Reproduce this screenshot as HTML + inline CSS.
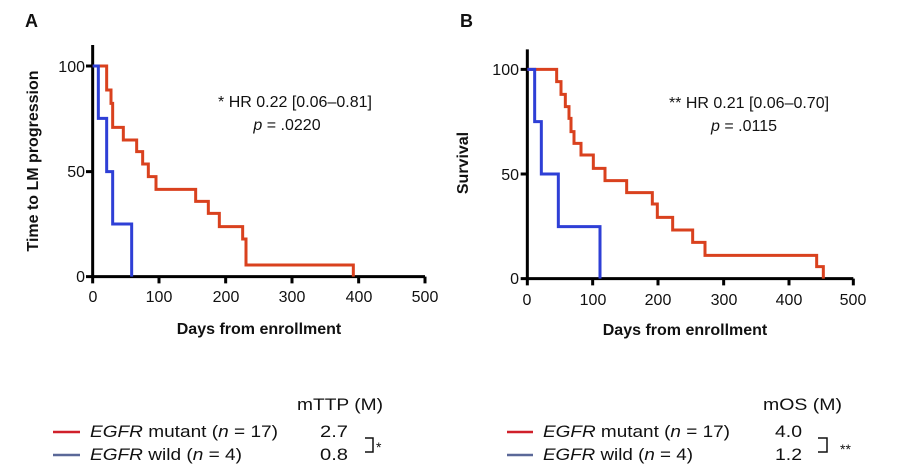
<!DOCTYPE html>
<html><head><meta charset="utf-8"><style>body{margin:0;background:#fff}svg{display:block}text{font-family:"Liberation Sans",sans-serif;fill:#111}</style></head><body>
<svg width="905" height="465" viewBox="0 0 905 465" xmlns="http://www.w3.org/2000/svg">
<rect width="905" height="465" fill="#fff"/>
<g transform="scale(0.33333)" fill="none" stroke-linejoin="miter">
 <path d="M278,135 V830 H1275 M258,198 H278 M258,515 H278 M278,830 V850 M477,830 V850 M677,830 V850 M876,830 V850 M1076,830 V850 M1275,830 V850 M258,830 H278" stroke="#000" stroke-width="9"/>
 <path d="M278,198 H320 V270 H333 V310 H338 V382 H370 V420 H410 V455 H428 V492 H445 V530 H468 V568 H587 V604 H625 V640 H658 V680 H728 V717 H738 V795 H1060 V830" stroke="#d9411e" stroke-width="9"/>
 <path d="M278,198 H295 V355 H320 V515 H338 V672 H395 V830" stroke="#2e3fd6" stroke-width="9"/>
</g>
<g transform="translate(450,0) scale(0.33333)" fill="none">
 <path d="M232,148 V836 H1210 M212,208 H232 M212,522 H232 M212,836 H232 M232,836 V856 M428,836 V856 M624,836 V856 M821,836 V856 M1017,836 V856 M1210,836 V856" stroke="#000" stroke-width="9"/>
 <path d="M232,208 H320 V245 H333 V283 H346 V320 H357 V355 H363 V395 H372 V430 H393 V465 H430 V505 H465 V542 H530 V578 H607 V612 H622 V652 H668 V690 H728 V727 H765 V766 H1100 V800 H1120 V836" stroke="#d9411e" stroke-width="9"/>
 <path d="M232,208 H254 V365 H274 V522 H325 V680 H450 V836" stroke="#2e3fd6" stroke-width="9"/>
</g>
<text x="25" y="27" font-size="18" font-weight="bold">A</text>
<text x="460" y="27" font-size="18" font-weight="bold">B</text>
<g font-size="16" text-anchor="end">
<text x="85" y="72">100</text><text x="85" y="177">50</text><text x="85" y="282">0</text>
<text x="519" y="75">100</text><text x="519" y="180">50</text><text x="519" y="284">0</text>
</g>
<g font-size="16" text-anchor="middle">
<text x="93" y="302">0</text><text x="159" y="302">100</text><text x="226" y="302">200</text><text x="292" y="302">300</text><text x="359" y="302">400</text><text x="425" y="302">500</text>
<text x="527" y="305">0</text><text x="593" y="305">100</text><text x="658" y="305">200</text><text x="724" y="305">300</text><text x="789" y="305">400</text><text x="853" y="305">500</text>
<text x="259" y="334" font-weight="bold">Days from enrollment</text>
<text x="685" y="335" font-weight="bold">Days from enrollment</text>
<text x="295" y="107">* HR 0.22 [0.06–0.81]</text>
<text x="287" y="130"><tspan font-style="italic">p</tspan> = .0220</text>
<text x="749" y="108">** HR 0.21 [0.06–0.70]</text>
<text x="744" y="131"><tspan font-style="italic">p</tspan> = .0115</text>
<text transform="translate(38,161) rotate(-90)" font-weight="bold">Time to LM progression</text>
<text transform="translate(468,163) rotate(-90)" font-weight="bold">Survival</text>
</g>
<g font-size="17">
<text x="297" y="410" textLength="86" lengthAdjust="spacingAndGlyphs">mTTP (M)</text>
<line x1="53" y1="432" x2="80" y2="432" stroke="#d0202a" stroke-width="2.5"/>
<line x1="53" y1="455" x2="80" y2="455" stroke="#5a6898" stroke-width="2.5"/>
<text x="90" y="437" textLength="188" lengthAdjust="spacingAndGlyphs"><tspan font-style="italic">EGFR</tspan> mutant (<tspan font-style="italic">n</tspan> = 17)</text>
<text x="90" y="460" textLength="152" lengthAdjust="spacingAndGlyphs"><tspan font-style="italic">EGFR</tspan> wild (<tspan font-style="italic">n</tspan> = 4)</text>
<text x="320" y="437" textLength="28" lengthAdjust="spacingAndGlyphs">2.7</text>
<text x="320" y="460" textLength="28" lengthAdjust="spacingAndGlyphs">0.8</text>
<path d="M365,438 H373 V452 H365" fill="none" stroke="#111" stroke-width="1.5"/>
<text x="376" y="452" font-size="14">*</text>
<text x="763" y="410" textLength="79" lengthAdjust="spacingAndGlyphs">mOS (M)</text>
<line x1="507" y1="432" x2="533" y2="432" stroke="#d0202a" stroke-width="2.5"/>
<line x1="507" y1="455" x2="533" y2="455" stroke="#5a6898" stroke-width="2.5"/>
<text x="543" y="437" textLength="187" lengthAdjust="spacingAndGlyphs"><tspan font-style="italic">EGFR</tspan> mutant (<tspan font-style="italic">n</tspan> = 17)</text>
<text x="543" y="460" textLength="150" lengthAdjust="spacingAndGlyphs"><tspan font-style="italic">EGFR</tspan> wild (<tspan font-style="italic">n</tspan> = 4)</text>
<text x="775" y="437" textLength="27" lengthAdjust="spacingAndGlyphs">4.0</text>
<text x="775" y="460" textLength="27" lengthAdjust="spacingAndGlyphs">1.2</text>
<path d="M818,438 H827 V452 H818" fill="none" stroke="#111" stroke-width="1.5"/>
<text x="840" y="454" font-size="14">**</text>
</g>
</svg>
</body></html>
